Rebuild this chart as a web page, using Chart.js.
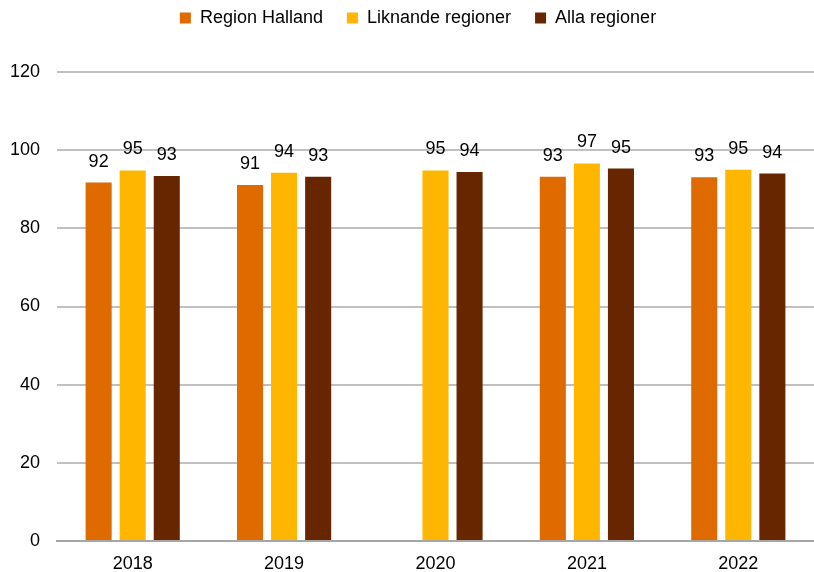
<!DOCTYPE html>
<html><head><meta charset="utf-8">
<script src="https://cdn.jsdelivr.net/npm/chart.js@4"></script>
<style>html,body{margin:0;padding:0;background:#fff}#w{width:814px;height:572px}</style>
</head><body><div id="w"><canvas id="c"></canvas></div>
<script>
const categories = ["2018","2019","2020","2021","2022"];
const halland = [91.7, 91.1, null, 93.2, 93.1];
const liknande = [94.8, 94.2, 94.8, 96.6, 95.0];
const alla = [93.4, 93.2, 94.4, 95.3, 94.0];
const yTicks = [0,20,40,60,80,100,120];

const labelPlugin = {
  id:'lbl',
  afterDatasetsDraw(chart){
    const ctx = chart.ctx;
    ctx.save();
    ctx.font = '18px "Liberation Sans", Arial, sans-serif';
    ctx.fillStyle = '#000';
    ctx.textAlign = 'center';
    ctx.textBaseline = 'alphabetic';
    chart.data.datasets.forEach((ds,i)=>{
      const meta = chart.getDatasetMeta(i);
      meta.data.forEach((el,j)=>{
        const v = ds.data[j];
        if(v==null) return;
        ctx.fillText(Math.round(v).toString(), el.x, el.y - 16);
      });
    });
    ctx.restore();
  }
};
const legendSpace = {
  id:'legendSpace',
  beforeInit(chart){
    const lg = chart.legend;
    const orig = lg.fit;
    lg.fit = function(){ orig.call(this); this.height += 35; };
    const od = lg.draw;
    lg.draw = function(){ const c = this.ctx; c.save(); c.translate(11,0); od.call(this); c.restore(); };
  }
};

Chart.defaults.font.family = '"Liberation Sans", Arial, sans-serif';
Chart.defaults.color = '#000';
new Chart(document.getElementById('c'), {
  type:'bar',
  data:{labels:categories, datasets:[
    {label:'Region Halland', data:halland, backgroundColor:'#DF6A00'},
    {label:'Liknande regioner', data:liknande, backgroundColor:'#FFB600'},
    {label:'Alla regioner', data:alla, backgroundColor:'#682600'}
  ]},
  options:{
    responsive:true, maintainAspectRatio:false, animation:false,
    datasets:{bar:{categoryPercentage:0.675, barPercentage:0.765}},
    layout:{padding:{left:0,right:0,top:-15,bottom:0}},
    plugins:{
      legend:{position:'top', labels:{boxWidth:11, boxHeight:11, font:{size:18}, padding:24, color:'#000'}},
      tooltip:{enabled:false}
    },
    scales:{
      x:{grid:{display:false, drawTicks:false}, border:{color:'#a6a6a6', width:2},
         afterFit(a){a.height = 31;},
         ticks:{font:{size:18}, padding:12, color:'#000'}},
      y:{min:0, max:120, afterBuildTicks(a){a.ticks = yTicks.map(v=>({value:v}));},
         afterFit(a){a.width = 57;},
         grid:{color:'#c0c0c0', lineWidth:2, drawTicks:false},
         border:{display:false},
         ticks:{font:{size:18}, padding:17, color:'#000'}}
    }
  },
  plugins:[labelPlugin, legendSpace]
});
</script></body></html>
